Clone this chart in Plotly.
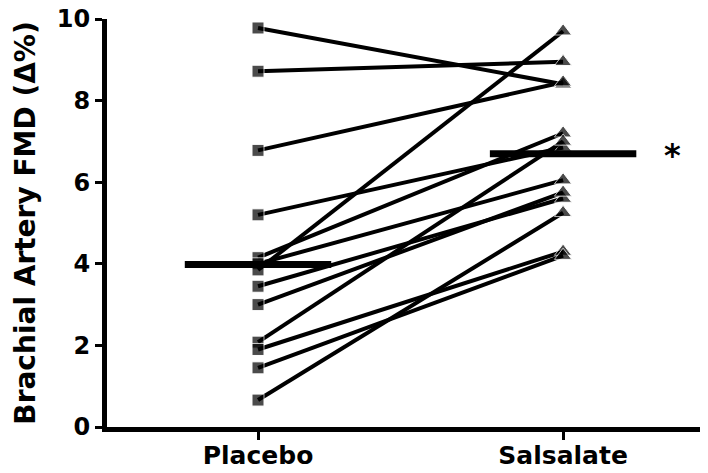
import plotly.graph_objects as go

categories = ["Placebo", "Salsalate"]
placebo = [9.78, 8.72, 6.78, 5.2, 4.15, 4.0, 3.85, 3.45, 3.0, 2.08, 1.9, 1.45, 0.66]
salsalate = [8.4, 8.95, 8.45, 6.85, 7.2, 6.05, 9.7, 5.6, 5.75, 7.0, 4.3, 4.2, 5.25]
group_means = [3.98, 6.7]
y_ticks = [0, 2, 4, 6, 8, 10]
y_title = "Brachial Artery FMD (Δ%)"
sig_mark = "*"

FONT = "DejaVu Sans"
fig = go.Figure()

for p, s in zip(placebo, salsalate):
    fig.add_trace(go.Scatter(
        x=[0, 1], y=[p, s], mode="lines+markers",
        line=dict(color="black", width=4),
        marker=dict(symbol=["square", "triangle-up"], size=[12, 15], color="black"),
        showlegend=False, hoverinfo="skip", cliponaxis=False))

half = 0.24
for i, m in enumerate(group_means):
    fig.add_trace(go.Scatter(
        x=[i - half, i + half], y=[m, m], mode="lines",
        line=dict(color="black", width=7), showlegend=False, hoverinfo="skip"))

fig.add_annotation(x=1.36, y=group_means[1], text="<b>" + sig_mark + "</b>", showarrow=False,
                   font=dict(family=FONT, size=32, color="black"), yshift=-1)

# page body has an 8px default margin, so the figure is 700x465 placed at (8, 8)
fig.update_layout(
    width=700, height=465,
    margin=dict(l=99, r=0, t=11, b=46),
    paper_bgcolor="white", plot_bgcolor="white",
    font=dict(family=FONT, color="black"),
)
fig.update_xaxes(
    range=[-0.495, 1.475], tickvals=[0, 1], ticktext=["<b>%s</b>" % c for c in categories],
    showgrid=False, zeroline=False, showline=True, linecolor="black", linewidth=5,
    ticks="outside", ticklen=8, tickwidth=3, tickcolor="black", automargin=False,
    ticklabelstandoff=-6, ticklabeloverflow="allow",
    tickfont=dict(family=FONT, size=25, color="black"))
fig.update_yaxes(
    range=[0, 10], tickvals=y_ticks, ticktext=["<b>%d</b>" % t for t in y_ticks],
    showgrid=False, zeroline=False, showline=True, linecolor="black", linewidth=5,
    ticks="outside", ticklen=7, tickwidth=3, tickcolor="black", automargin=False,
    ticklabeloverflow="allow",
    tickfont=dict(family=FONT, size=24, color="black"),
    title=dict(text="<b>" + y_title + "</b>", font=dict(family=FONT, size=28, color="black"), standoff=14))

fig.write_html("out.html")
